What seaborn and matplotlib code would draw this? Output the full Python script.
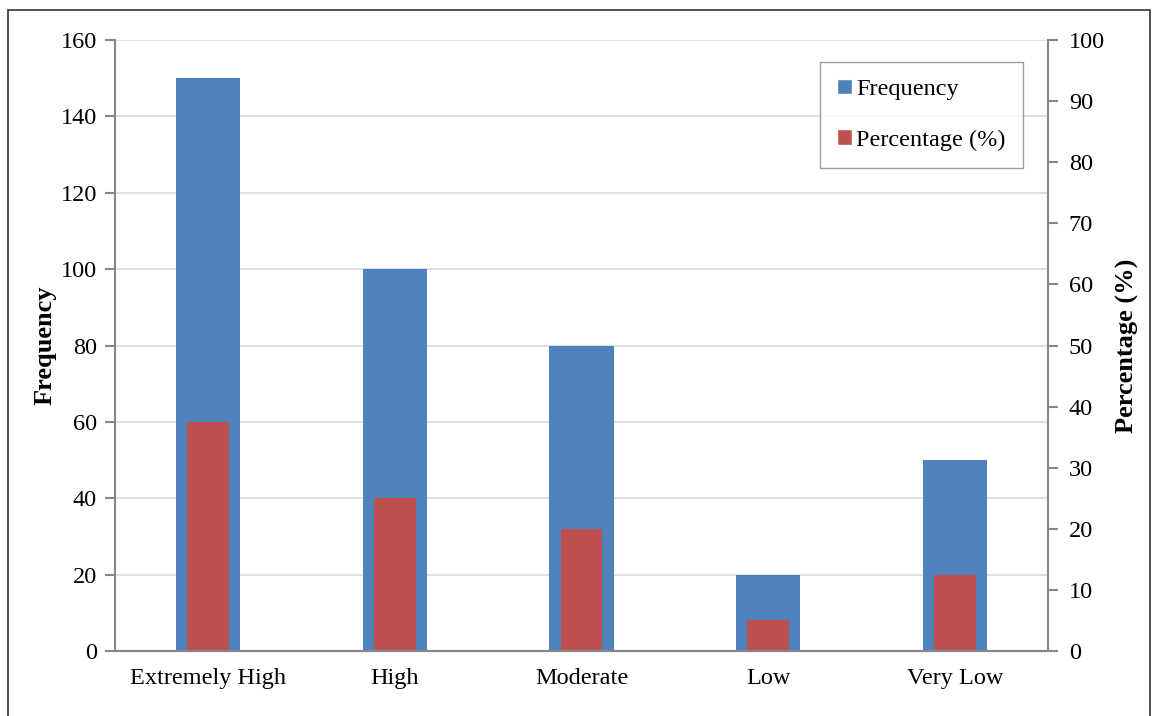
import matplotlib
matplotlib.use("Agg")
import matplotlib.pyplot as plt
import seaborn as sns
import pandas as pd
from matplotlib.patches import Patch, Rectangle

categories = ["Extremely High", "High", "Moderate", "Low", "Very Low"]
frequency = [150, 100, 80, 20, 50]
percentage = [37.5, 25, 20, 5, 12.5]

df = pd.DataFrame({"level": categories, "freq": frequency, "pct": percentage})

sns.set_style("white")
plt.rcParams['font.family'] = ['Liberation Serif', 'DejaVu Serif']
plt.rcParams['text.color'] = 'black'
plt.rcParams['axes.labelcolor'] = 'black'

blue = "#4F81BD"
red = "#C0504D"
axis_grey = "#868686"
fs = 17.5

fig = plt.figure(figsize=(11.53, 7.16), dpi=100)
ax = fig.add_axes([115 / 1153, 1 - 651 / 716, (1048 - 115) / 1153, (651 - 40) / 716])

sns.barplot(data=df, x="level", y="freq", ax=ax, color=blue, width=0.343,
            saturation=1, edgecolor="none", linewidth=0)
ax.set_ylim(0, 160)
ax.set_yticks(range(0, 161, 20))
ax.yaxis.grid(True, color="#d9d9d9", linewidth=1.2)
ax.set_axisbelow(True)
ax.set_xlabel("")
ax.set_ylabel("Frequency", fontsize=19, fontweight="bold", labelpad=3)

ax2 = ax.twinx()
sns.barplot(data=df, x="level", y="pct", ax=ax2, color=red, width=0.225,
            saturation=1, edgecolor="none", linewidth=0)
ax2.set_ylim(0, 100)
ax2.set_yticks(range(0, 101, 10))
ax2.set_ylabel("Percentage (%)", fontsize=19, fontweight="bold", labelpad=8)
ax2.set_xlabel("")

for a in (ax, ax2):
    a.spines["top"].set_visible(False)
    for s in ("left", "right", "bottom"):
        a.spines[s].set_color(axis_grey)
        a.spines[s].set_linewidth(1.5)
    a.tick_params(axis="y", labelsize=fs, length=7, width=1.5, color=axis_grey,
                  labelcolor="black", direction="out")
    a.tick_params(axis="x", labelsize=fs, length=0, pad=12, labelcolor="black")
ax.spines["right"].set_visible(False)
ax2.spines["left"].set_visible(False)
ax.tick_params(axis="y", pad=6)
ax2.tick_params(axis="y", pad=8)

handles = [Patch(facecolor=blue, label="Frequency"), Patch(facecolor=red, label="Percentage (%)")]
leg = ax2.legend(handles=handles, loc="upper left",
                 bbox_to_anchor=((820 - 115) / 933, 1 - (62 - 40) / 611),
                 fontsize=fs, frameon=True, fancybox=False, borderpad=0.7,
                 labelspacing=1.2, handlelength=0.6, handleheight=0.6,
                 handletextpad=0.2, borderaxespad=0)
leg.get_frame().set_edgecolor(axis_grey)
leg.get_frame().set_linewidth(1)

fig.patches.append(Rectangle((8 / 1153, -0.01), (1150 - 8) / 1153, 1 - 10 / 716 + 0.01,
                             transform=fig.transFigure, fill=False,
                             edgecolor="#333333", linewidth=1.2))

fig.savefig("out.png", dpi=100)
